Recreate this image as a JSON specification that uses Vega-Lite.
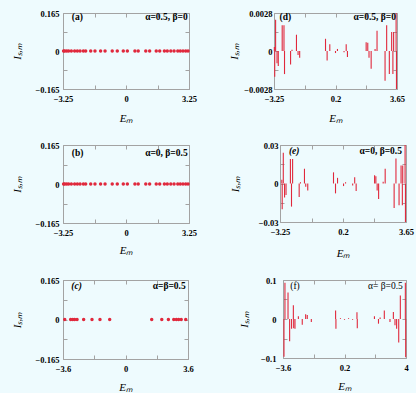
{
"$schema": "https://vega.github.io/schema/vega-lite/v6.json",
"background": "#eefbfe",
"padding": {"left": 10, "top": 8, "right": 2, "bottom": 2},
"spacing": 16,
"datasets": {
 "dotsAB": [{"E":-3.22,"I":0},{"E":-3.16,"I":0},{"E":-3.06,"I":0},{"E":-2.96,"I":0},{"E":-2.82,"I":0},{"E":-2.65,"I":0},{"E":-2.51,"I":0},{"E":-2.37,"I":0},{"E":-2.2,"I":0},{"E":-2.08,"I":0},{"E":-1.82,"I":0},{"E":-1.6,"I":0},{"E":-1.31,"I":0},{"E":-1.08,"I":0},{"E":-0.71,"I":0},{"E":-0.45,"I":0},{"E":-0.14,"I":0},{"E":0.07,"I":0},{"E":0.46,"I":0},{"E":0.63,"I":0},{"E":1.02,"I":0},{"E":1.22,"I":0},{"E":1.56,"I":0},{"E":1.74,"I":0},{"E":1.98,"I":0},{"E":2.13,"I":0},{"E":2.31,"I":0},{"E":2.48,"I":0},{"E":2.67,"I":0},{"E":2.8,"I":0},{"E":2.94,"I":0},{"E":3.08,"I":0},{"E":3.2,"I":0}],
 "dotsC": [{"E":-3.5,"I":0},{"E":-3.16,"I":0},{"E":-3.04,"I":0},{"E":-2.93,"I":0},{"E":-2.79,"I":0},{"E":-2.41,"I":0},{"E":-1.93,"I":0},{"E":-1.47,"I":0},{"E":-0.91,"I":0},{"E":1.51,"I":0},{"E":2.09,"I":0},{"E":2.47,"I":0},{"E":2.78,"I":0},{"E":2.93,"I":0},{"E":3.06,"I":0},{"E":3.21,"I":0},{"E":3.47,"I":0}],
 "barsD": [{"E":-3.23,"I":0.0003},{"E":-3.21,"I":-0.0019},{"E":-3.16,"I":0.0023},{"E":-3.08,"I":-0.0009},{"E":-3.01,"I":-0.0011},{"E":-2.79,"I":0.0019},{"E":-2.69,"I":0.0019},{"E":-2.66,"I":-0.0017},{"E":-2.32,"I":-0.001},{"E":-2.24,"I":0.0001},{"E":-1.99,"I":0.0012},{"E":-1.9,"I":-0.0003},{"E":-1.81,"I":-0.0005},{"E":-0.36,"I":0.0009},{"E":-0.27,"I":-0.0007},{"E":-0.12,"I":0.0005},{"E":0.2,"I":-0.00015},{"E":0.31,"I":0.00015},{"E":0.68,"I":-0.0001},{"E":0.8,"I":0.0005},{"E":0.87,"I":-0.00045},{"E":1.92,"I":0.00065},{"E":2.01,"I":0.0006},{"E":2.08,"I":-0.0005},{"E":2.2,"I":-0.0013},{"E":2.42,"I":0.00015},{"E":2.53,"I":0.0015},{"E":2.98,"I":-0.0022},{"E":3.07,"I":0.0019},{"E":3.22,"I":-0.0017},{"E":3.35,"I":0.0014},{"E":3.42,"I":-0.0017},{"E":3.46,"I":0.0014},{"E":3.6,"I":0.0028},{"E":3.62,"I":-0.0028}],
 "barsE": [{"E":-3.15,"I":0.003},{"E":-3.13,"I":-0.02},{"E":-3.07,"I":0.024},{"E":-3.0,"I":-0.011},{"E":-2.92,"I":-0.009},{"E":-2.68,"I":0.019},{"E":-2.62,"I":-0.018},{"E":-2.56,"I":0.019},{"E":-2.2,"I":-0.0105},{"E":-2.13,"I":0.001},{"E":-1.91,"I":0.0115},{"E":-1.84,"I":-0.0026},{"E":-1.73,"I":-0.0054},{"E":-0.32,"I":0.0087},{"E":-0.21,"I":-0.0077},{"E":-0.1,"I":0.0044},{"E":0.23,"I":-0.002},{"E":0.34,"I":0.001},{"E":0.73,"I":-0.0015},{"E":0.84,"I":0.0049},{"E":0.92,"I":-0.0059},{"E":1.93,"I":0.0064},{"E":2.0,"I":0.0056},{"E":2.07,"I":-0.0054},{"E":2.15,"I":-0.012},{"E":2.4,"I":0.0013},{"E":2.51,"I":0.0115},{"E":3.0,"I":-0.019},{"E":3.1,"I":0.0195},{"E":3.27,"I":-0.017},{"E":3.38,"I":0.014},{"E":3.45,"I":-0.017},{"E":3.47,"I":0.014},{"E":3.6,"I":0.03},{"E":3.62,"I":-0.03}],
 "barsF": [{"E":-3.54,"I":-0.097},{"E":-3.48,"I":0.093},{"E":-3.29,"I":0.068},{"E":-3.19,"I":-0.057},{"E":-3.07,"I":-0.025},{"E":-2.96,"I":0.035},{"E":-2.94,"I":-0.024},{"E":-2.86,"I":-0.025},{"E":-2.65,"I":0.007},{"E":-2.41,"I":-0.015},{"E":-2.2,"I":0.012},{"E":-2.1,"I":0.01},{"E":-1.85,"I":-0.008},{"E":-0.35,"I":0.022},{"E":-0.33,"I":-0.025},{"E":-0.05,"I":0.002},{"E":0.2,"I":-0.002},{"E":0.45,"I":0.002},{"E":0.7,"I":-0.002},{"E":0.97,"I":0.017},{"E":0.99,"I":-0.024},{"E":2.05,"I":0.007},{"E":2.3,"I":-0.012},{"E":2.4,"I":0.004},{"E":2.66,"I":0.022},{"E":3.01,"I":-0.008},{"E":3.22,"I":0.018},{"E":3.32,"I":-0.016},{"E":3.42,"I":-0.025},{"E":3.55,"I":-0.06},{"E":3.65,"I":0.06},{"E":3.96,"I":0.093},{"E":3.98,"I":-0.098}]
},
"config": {
 "view": {"stroke": "#a3a3a3", "strokeWidth": 1},
 "axis": {"domain": false, "grid": false, "tickColor": "#a3a3a3", "tickSize": -4, "tickWidth": 1, "labelPadding": 9, "labelFont": "Liberation Serif", "labelFontWeight": "bold", "labelFontSize": 8.5, "labelColor": "#000000", "labelFlush": false, "labelOverlap": false, "titleFont": "Liberation Serif", "titleFontStyle": "italic", "titleFontWeight": "normal", "titleFontSize": 11, "titleColor": "#000000"},
 "axisY": {"labelPadding": 8},
 "text": {"color": "#000000"}
},
"vconcat": [
 {"spacing": 31, "hconcat": [
  {"width": 126, "height": 76,
   "layer": [
    {"data": {"name": "dotsAB"}, "mark": {"type": "circle", "size": 12, "color": "#e0283c", "opacity": 1},
     "encoding": {
      "x": {"field": "E", "type": "quantitative", "scale": {"domain": [-3.25, 3.25], "nice": false, "zero": false}, "axis": {"values": [-3.25, -1.625, 0, 1.625, 3.25], "format": ".2~f", "labelExpr": "datum.index == 0 || datum.index == 0.5 || datum.index == 1 ? datum.label : ''", "title": "Eₘ", "titlePadding": 10}},
      "y": {"field": "I", "type": "quantitative", "scale": {"domain": [-0.165, 0.165], "nice": false, "zero": false}, "axis": {"values": [-0.165, -0.0825, 0, 0.0825, 0.165], "format": ".3~f", "labelExpr": "datum.index == 0 || datum.index == 0.5 || datum.index == 1 ? datum.label : ''", "title": "Iₛ,ₘ", "titlePadding": 13}}}},
    {"data": {"name": "dotsAB"}, "mark": {"type": "point", "opacity": 0},
     "encoding": {
      "x": {"field": "E", "type": "quantitative", "scale": {"domain": [-3.25, 3.25], "nice": false, "zero": false}, "axis": {"orient": "top", "values": [-3.25, -1.625, 0, 1.625, 3.25], "labels": false, "title": null}},
      "y": {"field": "I", "type": "quantitative", "scale": {"domain": [-0.165, 0.165], "nice": false, "zero": false}, "axis": {"orient": "right", "values": [-0.165, -0.0825, 0, 0.0825, 0.165], "labels": false, "title": null}}}},
    {"data": {"values": [{}]}, "mark": {"type": "text", "align": "left", "baseline": "middle", "font": "Liberation Serif", "fontWeight": "bold", "fontSize": 9.5},
     "encoding": {"x": {"datum": -2.8, "type": "quantitative", "axis": null}, "y": {"datum": 0.149, "type": "quantitative", "axis": null}, "text": {"value": "(a)"}}},
    {"data": {"values": [{}]}, "mark": {"type": "text", "align": "right", "baseline": "middle", "font": "Liberation Serif", "fontWeight": "bold", "fontSize": 9.5},
     "encoding": {"x": {"datum": 3.18, "type": "quantitative", "axis": null}, "y": {"datum": 0.149, "type": "quantitative", "axis": null}, "text": {"value": "α=0.5, β=0"}}}
   ],
   "resolve": {"axis": {"x": "independent", "y": "independent"}}},
  {"width": 123, "height": 76,
   "layer": [
    {"data": {"name": "barsD"}, "mark": {"type": "rule", "color": "#e0283c", "strokeWidth": 1.1},
     "encoding": {
      "x": {"field": "E", "type": "quantitative", "scale": {"domain": [-3.25, 3.65], "nice": false, "zero": false}, "axis": {"values": [-3.25, -1.525, 0.2, 1.925, 3.65], "format": ".2~f", "labelExpr": "datum.index == 0 || datum.index == 0.5 || datum.index == 1 ? datum.label : ''", "title": "Eₘ", "titlePadding": 10}},
      "y": {"field": "I", "type": "quantitative", "scale": {"domain": [-0.0028, 0.0028], "nice": false, "zero": false}, "axis": {"values": [-0.0028, -0.0014, 0, 0.0014, 0.0028], "format": ".4~f", "labelExpr": "datum.index == 0 || datum.index == 0.5 || datum.index == 1 ? datum.label : ''", "title": "Iₛ,ₘ", "titlePadding": 4, "labelPadding": 6}},
      "y2": {"datum": 0}}},
    {"data": {"name": "barsD"}, "mark": {"type": "point", "opacity": 0},
     "encoding": {
      "x": {"field": "E", "type": "quantitative", "scale": {"domain": [-3.25, 3.65], "nice": false, "zero": false}, "axis": {"orient": "top", "values": [-3.25, -1.525, 0.2, 1.925, 3.65], "labels": false, "title": null}},
      "y": {"field": "I", "type": "quantitative", "scale": {"domain": [-0.0028, 0.0028], "nice": false, "zero": false}, "axis": {"orient": "right", "values": [-0.0028, -0.0014, 0, 0.0014, 0.0028], "labels": false, "title": null}}}},
    {"data": {"values": [{}]}, "mark": {"type": "text", "align": "left", "baseline": "middle", "font": "Liberation Serif", "fontWeight": "bold", "fontSize": 9.5},
     "encoding": {"x": {"datum": -2.94, "type": "quantitative", "axis": null}, "y": {"datum": 0.0025, "type": "quantitative", "axis": null}, "text": {"value": "(d)"}}},
    {"data": {"values": [{}]}, "mark": {"type": "text", "align": "right", "baseline": "middle", "font": "Liberation Serif", "fontWeight": "bold", "fontSize": 9.5},
     "encoding": {"x": {"datum": 3.59, "type": "quantitative", "axis": null}, "y": {"datum": 0.0025, "type": "quantitative", "axis": null}, "text": {"value": "α=0.5, β=0"}}}
   ],
   "resolve": {"axis": {"x": "independent", "y": "independent"}}}
 ]},
 {"spacing": 31, "hconcat": [
  {"width": 126, "height": 78,
   "layer": [
    {"data": {"name": "dotsAB"}, "mark": {"type": "circle", "size": 12, "color": "#e0283c", "opacity": 1},
     "encoding": {
      "x": {"field": "E", "type": "quantitative", "scale": {"domain": [-3.25, 3.25], "nice": false, "zero": false}, "axis": {"values": [-3.25, -1.625, 0, 1.625, 3.25], "format": ".2~f", "labelExpr": "datum.index == 0 || datum.index == 0.5 || datum.index == 1 ? datum.label : ''", "title": "Eₘ", "titlePadding": 8}},
      "y": {"field": "I", "type": "quantitative", "scale": {"domain": [-0.165, 0.165], "nice": false, "zero": false}, "axis": {"values": [-0.165, -0.0825, 0, 0.0825, 0.165], "format": ".3~f", "labelExpr": "datum.index == 0 || datum.index == 0.5 || datum.index == 1 ? datum.label : ''", "title": "Iₛ,ₘ", "titlePadding": 13}}}},
    {"data": {"name": "dotsAB"}, "mark": {"type": "point", "opacity": 0},
     "encoding": {
      "x": {"field": "E", "type": "quantitative", "scale": {"domain": [-3.25, 3.25], "nice": false, "zero": false}, "axis": {"orient": "top", "values": [-3.25, -1.625, 0, 1.625, 3.25], "labels": false, "title": null}},
      "y": {"field": "I", "type": "quantitative", "scale": {"domain": [-0.165, 0.165], "nice": false, "zero": false}, "axis": {"orient": "right", "values": [-0.165, -0.0825, 0, 0.0825, 0.165], "labels": false, "title": null}}}},
    {"data": {"values": [{}]}, "mark": {"type": "text", "align": "left", "baseline": "middle", "font": "Liberation Serif", "fontWeight": "bold", "fontSize": 9.5},
     "encoding": {"x": {"datum": -2.8, "type": "quantitative", "axis": null}, "y": {"datum": 0.133, "type": "quantitative", "axis": null}, "text": {"value": "(b)"}}},
    {"data": {"values": [{}]}, "mark": {"type": "text", "align": "right", "baseline": "middle", "font": "Liberation Serif", "fontWeight": "bold", "fontSize": 9.5},
     "encoding": {"x": {"datum": 3.18, "type": "quantitative", "axis": null}, "y": {"datum": 0.133, "type": "quantitative", "axis": null}, "text": {"value": "α=0, β=0.5"}}}
   ],
   "resolve": {"axis": {"x": "independent", "y": "independent"}}},
  {"width": 126, "height": 77,
   "layer": [
    {"data": {"name": "barsE"}, "mark": {"type": "rule", "color": "#e0283c", "strokeWidth": 1.1},
     "encoding": {
      "x": {"field": "E", "type": "quantitative", "scale": {"domain": [-3.25, 3.65], "nice": false, "zero": false}, "axis": {"values": [-3.25, -1.525, 0.2, 1.925, 3.65], "format": ".2~f", "labelExpr": "datum.index == 0 || datum.index == 0.5 || datum.index == 1 ? datum.label : ''", "title": "Eₘ", "titlePadding": 12}},
      "y": {"field": "I", "type": "quantitative", "scale": {"domain": [-0.03, 0.03], "nice": false, "zero": false}, "axis": {"values": [-0.03, -0.015, 0, 0.015, 0.03], "format": ".2~f", "labelExpr": "datum.index == 0 || datum.index == 0.5 || datum.index == 1 ? datum.label : ''", "title": "Iₛ,ₘ", "titlePadding": 18, "labelPadding": 6}},
      "y2": {"datum": 0}}},
    {"data": {"name": "barsE"}, "mark": {"type": "point", "opacity": 0},
     "encoding": {
      "x": {"field": "E", "type": "quantitative", "scale": {"domain": [-3.25, 3.65], "nice": false, "zero": false}, "axis": {"orient": "top", "values": [-3.25, -1.525, 0.2, 1.925, 3.65], "labels": false, "title": null}},
      "y": {"field": "I", "type": "quantitative", "scale": {"domain": [-0.03, 0.03], "nice": false, "zero": false}, "axis": {"orient": "right", "values": [-0.03, -0.015, 0, 0.015, 0.03], "labels": false, "title": null}}}},
    {"data": {"values": [{}]}, "mark": {"type": "text", "align": "left", "baseline": "middle", "font": "Liberation Serif", "fontWeight": "bold", "fontStyle": "italic", "fontSize": 9.5},
     "encoding": {"x": {"datum": -2.76, "type": "quantitative", "axis": null}, "y": {"datum": 0.0257, "type": "quantitative", "axis": null}, "text": {"value": "(e)"}}},
    {"data": {"values": [{}]}, "mark": {"type": "text", "align": "right", "baseline": "middle", "font": "Liberation Serif", "fontWeight": "bold", "fontSize": 9.5},
     "encoding": {"x": {"datum": 3.43, "type": "quantitative", "axis": null}, "y": {"datum": 0.0257, "type": "quantitative", "axis": null}, "text": {"value": "α=0, β=0.5"}}}
   ],
   "resolve": {"axis": {"x": "independent", "y": "independent"}}}
 ]},
 {"spacing": 44, "hconcat": [
  {"width": 125, "height": 79,
   "layer": [
    {"data": {"name": "dotsC"}, "mark": {"type": "circle", "size": 12, "color": "#e0283c", "opacity": 1},
     "encoding": {
      "x": {"field": "E", "type": "quantitative", "scale": {"domain": [-3.6, 3.6], "nice": false, "zero": false}, "axis": {"values": [-3.6, -1.8, 0, 1.8, 3.6], "format": ".2~f", "labelExpr": "datum.index == 0 || datum.index == 0.5 || datum.index == 1 ? datum.label : ''", "title": "Eₘ", "titlePadding": 9}},
      "y": {"field": "I", "type": "quantitative", "scale": {"domain": [-0.165, 0.165], "nice": false, "zero": false}, "axis": {"values": [-0.165, -0.0825, 0, 0.0825, 0.165], "format": ".3~f", "labelExpr": "datum.index == 0 || datum.index == 0.5 || datum.index == 1 ? datum.label : ''", "title": "Iₛ,ₘ", "titlePadding": 13}}}},
    {"data": {"name": "dotsC"}, "mark": {"type": "point", "opacity": 0},
     "encoding": {
      "x": {"field": "E", "type": "quantitative", "scale": {"domain": [-3.6, 3.6], "nice": false, "zero": false}, "axis": {"orient": "top", "values": [-3.6, -1.8, 0, 1.8, 3.6], "labels": false, "title": null}},
      "y": {"field": "I", "type": "quantitative", "scale": {"domain": [-0.165, 0.165], "nice": false, "zero": false}, "axis": {"orient": "right", "values": [-0.165, -0.0825, 0, 0.0825, 0.165], "labels": false, "title": null}}}},
    {"data": {"values": [{}]}, "mark": {"type": "text", "align": "left", "baseline": "middle", "font": "Liberation Serif", "fontWeight": "bold", "fontStyle": "italic", "fontSize": 9.5},
     "encoding": {"x": {"datum": -3.12, "type": "quantitative", "axis": null}, "y": {"datum": 0.138, "type": "quantitative", "axis": null}, "text": {"value": "(c)"}}},
    {"data": {"values": [{}]}, "mark": {"type": "text", "align": "right", "baseline": "middle", "font": "Liberation Serif", "fontWeight": "bold", "fontSize": 9.5},
     "encoding": {"x": {"datum": 3.47, "type": "quantitative", "axis": null}, "y": {"datum": 0.138, "type": "quantitative", "axis": null}, "text": {"value": "α=β=0.5"}}}
   ],
   "resolve": {"axis": {"x": "independent", "y": "independent"}}},
  {"width": 123, "height": 78,
   "layer": [
    {"data": {"name": "barsF"}, "mark": {"type": "rule", "color": "#e0283c", "strokeWidth": 1.1},
     "encoding": {
      "x": {"field": "E", "type": "quantitative", "scale": {"domain": [-3.6, 4], "nice": false, "zero": false}, "axis": {"values": [-3.6, -1.7, 0.2, 2.1, 4], "format": ".2~f", "labelExpr": "datum.index == 0 || datum.index == 0.5 || datum.index == 1 ? datum.label : ''", "title": "Eₘ", "titlePadding": 9}},
      "y": {"field": "I", "type": "quantitative", "scale": {"domain": [-0.1, 0.1], "nice": false, "zero": false}, "axis": {"values": [-0.1, -0.05, 0, 0.05, 0.1], "format": ".2~f", "labelExpr": "datum.index == 0 || datum.index == 0.5 || datum.index == 1 ? datum.label : ''", "title": "Iₛ,ₘ", "titlePadding": 11, "labelPadding": 11}},
      "y2": {"datum": 0}}},
    {"data": {"name": "barsF"}, "mark": {"type": "point", "opacity": 0},
     "encoding": {
      "x": {"field": "E", "type": "quantitative", "scale": {"domain": [-3.6, 4], "nice": false, "zero": false}, "axis": {"orient": "top", "values": [-3.6, -1.7, 0.2, 2.1, 4], "labels": false, "title": null}},
      "y": {"field": "I", "type": "quantitative", "scale": {"domain": [-0.1, 0.1], "nice": false, "zero": false}, "axis": {"orient": "right", "values": [-0.1, -0.05, 0, 0.05, 0.1], "labels": false, "title": null}}}},
    {"data": {"values": [{}]}, "mark": {"type": "text", "align": "left", "baseline": "middle", "font": "Liberation Serif", "fontSize": 9.5},
     "encoding": {"x": {"datum": -3.15, "type": "quantitative", "axis": null}, "y": {"datum": 0.084, "type": "quantitative", "axis": null}, "text": {"value": "(f)"}}},
    {"data": {"values": [{}]}, "mark": {"type": "text", "align": "right", "baseline": "middle", "font": "Liberation Serif", "fontSize": 9.5},
     "encoding": {"x": {"datum": 3.8, "type": "quantitative", "axis": null}, "y": {"datum": 0.084, "type": "quantitative", "axis": null}, "text": {"value": "α= β=0.5"}}}
   ],
   "resolve": {"axis": {"x": "independent", "y": "independent"}}}
 ]}
]
}
